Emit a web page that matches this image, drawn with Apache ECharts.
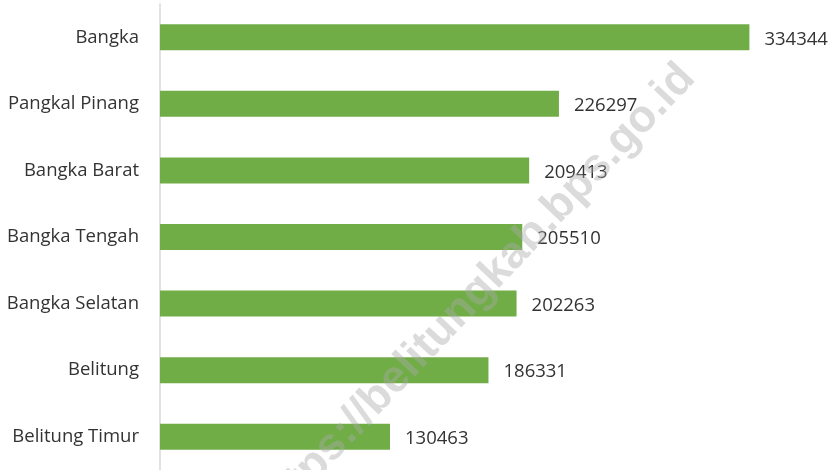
<!DOCTYPE html>
<html>
<head>
<meta charset="utf-8">
<script src="https://cdn.jsdelivr.net/npm/echarts@6/dist/echarts.min.js"></script>
<style>
  html, body { margin: 0; padding: 0; background: #ffffff; }
  #chart { width: 833px; height: 470px; }
</style>
</head>
<body>
<div id="chart"></div>
<script>
// Regencies / city, listed top to bottom
const categories = [
  'Bangka',
  'Pangkal Pinang',
  'Bangka Barat',
  'Bangka Tengah',
  'Bangka Selatan',
  'Belitung',
  'Belitung Timur'
];

// Population per regency
const populationValues = [334344, 226297, 209413, 205510, 202263, 186331, 130463];

const watermarkText = 'https://belitungkab.bps.go.id';

const textFont = '"Open Sans", "Noto Sans", sans-serif';

const chart = echarts.init(document.getElementById('chart'), null, { renderer: 'canvas' });

chart.setOption({
  animation: false,
  backgroundColor: '#ffffff',
  grid: {
    left: 160,
    width: 617,
    top: 4,
    height: 469,
    containLabel: false
  },
  xAxis: {
    type: 'value',
    min: 0,
    max: 350000,
    show: false
  },
  yAxis: {
    type: 'category',
    data: categories,
    inverse: true,
    axisLine: { show: true, lineStyle: { color: '#d9d9d9', width: 1.5 } },
    axisTick: { show: false },
    axisLabel: {
      margin: 21,
      color: '#333333',
      fontFamily: textFont,
      fontSize: 18.5
    },
    splitLine: { show: false }
  },
  series: [{
    type: 'bar',
    data: populationValues,
    barWidth: 26,
    itemStyle: { color: '#70ad47' },
    label: {
      show: true,
      position: 'right',
      distance: 15,
      offset: [0, 2],
      color: '#333333',
      fontFamily: textFont,
      fontSize: 18.5
    }
  }],
  graphic: [{
    type: 'text',
    x: 476,
    y: 294,
    rotation: 46.5 * Math.PI / 180,
    z: 100,
    style: {
      text: watermarkText,
      fontFamily: '"Liberation Sans", Arial, sans-serif',
      fontWeight: 'bold',
      fontSize: 45,
      fill: 'rgba(170,170,170,0.42)',
      align: 'center',
      verticalAlign: 'middle'
    }
  }]
});
</script>
</body>
</html>
